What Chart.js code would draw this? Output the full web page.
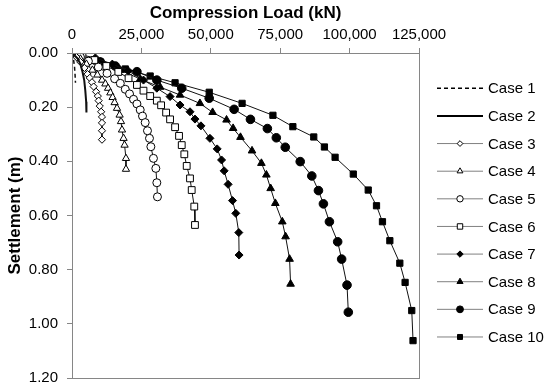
<!DOCTYPE html>
<html>
<head>
<meta charset="utf-8">
<script src="https://cdn.jsdelivr.net/npm/chart.js@4.4.0/dist/chart.umd.min.js"></script>
<style>
  html, body { margin: 0; padding: 0; background: #fff; }
  #wrap { width: 550px; height: 389px; }
</style>
</head>
<body>
<div id="wrap"><canvas id="chart"></canvas></div>
<script>
// load (kN) and settlement (m), one pair of arrays per case
const case1Load = [0, 500, 900, 1100, 1250]
const case1Settle = [0, 0.02, 0.05, 0.08, 0.11]

const case2Load = [0, 2000, 3000, 3800, 4400, 4800, 5100, 5200]
const case2Settle = [0, 0.02, 0.04, 0.07, 0.10, 0.14, 0.18, 0.22]

const case3Load = [0, 1600, 3000, 4500, 5600, 6400, 7200, 7800, 8700, 9300, 9600, 10000, 10500, 10800, 10800, 10800, 10800]
const case3Settle = [0, 0.015, 0.033, 0.055, 0.078, 0.092, 0.108, 0.124, 0.143, 0.159, 0.176, 0.196, 0.217, 0.236, 0.258, 0.287, 0.32]

const case4Load = [0, 3050, 5200, 7350, 9150, 10830, 12020, 12990, 13810, 14630, 15350, 16210, 17150, 17650, 18010, 18580, 18940, 19440, 19440]
const case4Settle = [0, 0.022, 0.041, 0.063, 0.081, 0.100, 0.114, 0.130, 0.147, 0.164, 0.183, 0.204, 0.229, 0.253, 0.284, 0.315, 0.340, 0.389, 0.429]

const case5Load = [0, 3050, 5900, 9500, 12630, 15350, 17400, 19190, 20730, 22170, 23390, 24570, 25400, 26360, 27190, 27910, 28410, 29340, 30200, 30560, 30780]
const case5Settle = [0, 0.015, 0.030, 0.052, 0.075, 0.095, 0.112, 0.134, 0.151, 0.171, 0.188, 0.210, 0.233, 0.257, 0.287, 0.315, 0.346, 0.389, 0.426, 0.479, 0.531]

const case6Load = [0, 3770, 8070, 12380, 16680, 20370, 23390, 25750, 28160, 30560, 32100, 33900, 35330, 37130, 38560, 39530, 40460, 41320, 42510, 43120, 44050, 44300]
const case6Settle = [0, 0.011, 0.026, 0.048, 0.070, 0.093, 0.118, 0.139, 0.159, 0.176, 0.193, 0.220, 0.245, 0.274, 0.306, 0.340, 0.374, 0.417, 0.463, 0.506, 0.567, 0.635]

const case7Load = [0, 8430, 14530, 20270, 25750, 30560, 35330, 38920, 42510, 44300, 46450, 49680, 52300, 53880, 54810, 56240, 57820, 59000, 60080, 60190]
const case7Settle = [0, 0.018, 0.041, 0.066, 0.100, 0.130, 0.161, 0.192, 0.217, 0.244, 0.269, 0.315, 0.354, 0.395, 0.435, 0.485, 0.545, 0.592, 0.663, 0.746]

const case8Load = [0, 10220, 17400, 24570, 31750, 38920, 46090, 50650, 55670, 58040, 60690, 64850, 68230, 70020, 71560, 73250, 75760, 76940, 78380, 78740]
const case8Settle = [0, 0.033, 0.063, 0.096, 0.126, 0.155, 0.186, 0.219, 0.247, 0.278, 0.311, 0.361, 0.407, 0.450, 0.500, 0.555, 0.623, 0.678, 0.761, 0.853]

const case9Load = [0, 10220, 15600, 23390, 30560, 39530, 49430, 58400, 64280, 70380, 73600, 76830, 82210, 86380, 88780, 90570, 92730, 95700, 97130, 99070, 99540]
const case9Settle = [0, 0.033, 0.048, 0.069, 0.100, 0.130, 0.167, 0.208, 0.245, 0.279, 0.313, 0.348, 0.401, 0.454, 0.508, 0.557, 0.623, 0.697, 0.761, 0.857, 0.957]

const case10Load = [0, 10220, 19190, 28160, 37130, 49430, 61270, 72380, 79560, 87090, 90930, 94770, 101330, 106710, 109690, 111840, 114500, 118090, 119990, 122390, 122850]
const case10Settle = [0, 0.033, 0.059, 0.085, 0.110, 0.145, 0.186, 0.230, 0.272, 0.310, 0.347, 0.385, 0.447, 0.506, 0.564, 0.623, 0.693, 0.776, 0.847, 0.951, 1.062]

const caseNames = ["Case 1", "Case 2", "Case 3", "Case 4", "Case 5", "Case 6", "Case 7", "Case 8", "Case 9", "Case 10"]
const xTicks = [0, 25000, 50000, 75000, 100000, 125000]
const yTicks = [0, 0.2, 0.4, 0.6, 0.8, 1.0, 1.2]

const loads = [case1Load, case2Load, case3Load, case4Load, case5Load, case6Load, case7Load, case8Load, case9Load, case10Load]
const settles = [case1Settle, case2Settle, case3Settle, case4Settle, case5Settle, case6Settle, case7Settle, case8Settle, case9Settle, case10Settle]

// marker look per case
const styles = [
    {point: false, dash: [4, 3], width: 1.5},
    {point: false, dash: [], width: 2},
    {point: 'rectRot', fill: '#fff', r: 3.6},
    {point: 'triangle', fill: '#fff', r: 4.2},
    {point: 'circle', fill: '#fff', r: 4},
    {point: 'rect', fill: '#fff', r: 4.8},
    {point: 'rectRot', fill: '#000', r: 4},
    {point: 'triangle', fill: '#000', r: 4.4},
    {point: 'circle', fill: '#000', r: 4.3},
    {point: 'rect', fill: '#000', r: 4.4}
]

const FONT = "'Liberation Sans', Arial, sans-serif"

const datasets = caseNames.map((name, i) => {
    const st = styles[i]
    const pts = loads[i].map((v, k) => ({x: v, y: settles[i][k]}))
    return {
        label: name,
        data: pts,
        showLine: true,
        borderColor: '#111',
        borderWidth: st.point ? 1 : st.width,
        borderDash: st.point ? [] : st.dash,
        tension: 0,
        pointStyle: st.point || 'circle',
        pointRadius: st.point ? st.r : 0,
        pointBackgroundColor: st.fill || '#000',
        pointBorderColor: '#000',
        pointBorderWidth: 1
    }
})

const frame = {
    id: 'frame',
    afterDraw(chart) {
        const {ctx, chartArea: a} = chart
        ctx.save()
        ctx.strokeStyle = '#868686'
        ctx.lineWidth = 1
        ctx.strokeRect(Math.round(a.left) + 0.5, Math.round(a.top) + 0.5, Math.round(a.right - a.left), Math.round(a.bottom - a.top))
        ctx.restore()
    }
}

const legendBox = {
    id: 'legendBox',
    afterDraw(chart) {
        const ctx = chart.ctx
        ctx.save()
        ctx.font = `15px ${FONT}`
        ctx.textBaseline = 'middle'
        caseNames.forEach((name, i) => {
            const st = styles[i]
            const y = 88.3 + i * 27.63
            ctx.beginPath()
            ctx.setLineDash(st.point ? [] : st.dash)
            ctx.lineWidth = st.point ? 1 : st.width
            ctx.strokeStyle = st.point ? '#808080' : '#000'
            ctx.moveTo(437, y)
            ctx.lineTo(483, y)
            ctx.stroke()
            ctx.setLineDash([])
            if (st.point) {
                ctx.fillStyle = st.fill
                ctx.strokeStyle = '#000'
                ctx.lineWidth = 1
                Chart.helpers.drawPoint(ctx, {pointStyle: st.point, radius: st.r * 0.8, rotation: 0, borderWidth: 1}, 460, y)
            }
            ctx.fillStyle = '#000'
            ctx.fillText(name, 488, y + 1)
        })
        ctx.restore()
    }
}

new Chart(document.getElementById('chart'), {
    type: 'scatter',
    data: {datasets: datasets},
    options: {
        responsive: true,
        maintainAspectRatio: false,
        animation: false,
        layout: {padding: {left: 5, right: 131, top: 3, bottom: 11}},
        plugins: {legend: {display: false}, tooltip: {enabled: false}},
        scales: {
            x: {
                type: 'linear',
                position: 'top',
                min: 0,
                max: 125000,
                afterBuildTicks: s => { s.ticks = xTicks.map(v => ({value: v})) },
                afterFit: s => { s.height = 50; s.paddingLeft = 0; s.paddingRight = 0 },
                ticks: {
                    color: '#000',
                    font: {family: FONT, size: 15},
                    padding: 4,
                    callback: v => v.toLocaleString('en-US')
                },
                grid: {display: true, drawOnChartArea: false, drawTicks: true, tickLength: 5, color: '#868686'},
                border: {color: '#868686'},
                title: {display: true, text: 'Compression Load (kN)', color: '#000', font: {family: FONT, size: 17, weight: 'bold'}, padding: {top: 0, bottom: 2}}
            },
            y: {
                type: 'linear',
                reverse: true,
                min: 0,
                max: 1.2,
                afterBuildTicks: s => { s.ticks = yTicks.map(v => ({value: v})) },
                afterFit: s => { s.width = 67; s.paddingTop = 0; s.paddingBottom = 0 },
                ticks: {
                    color: '#000',
                    font: {family: FONT, size: 15},
                    padding: 9,
                    callback: v => v.toFixed(2)
                },
                grid: {display: true, drawOnChartArea: false, drawTicks: true, tickLength: 5, color: '#868686'},
                border: {color: '#868686'},
                title: {display: true, text: 'Settlement (m)', color: '#000', font: {family: FONT, size: 17, weight: 'bold'}, padding: {top: 0, bottom: 2}}
            }
        }
    },
    plugins: [frame, legendBox]
})
</script>
</body>
</html>
